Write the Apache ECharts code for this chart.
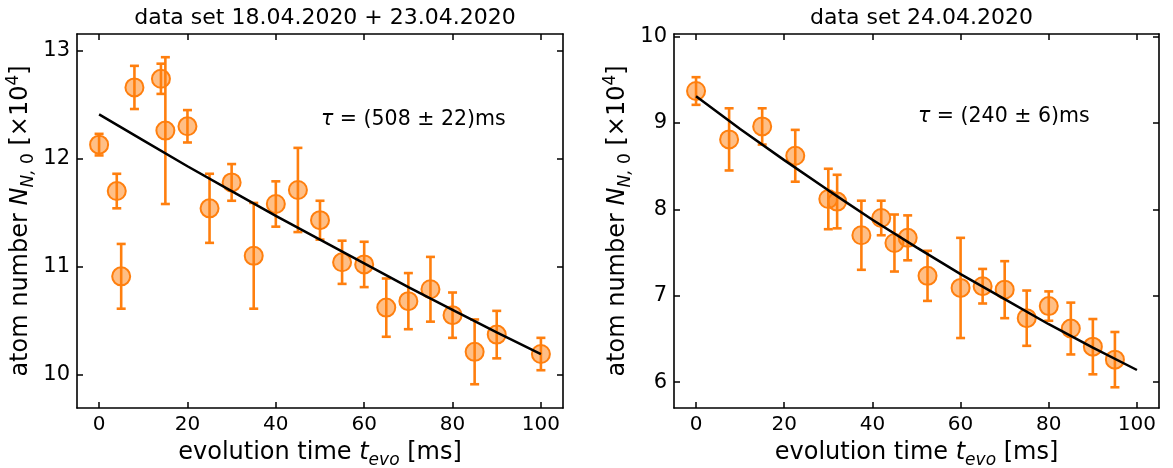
<!DOCTYPE html>
<html>
<head>
<meta charset="utf-8">
<script src="https://cdn.jsdelivr.net/npm/echarts@6/dist/echarts.min.js"></script>
<style>
  html, body { margin: 0; padding: 0; background: #fff; }
  #chart { width: 1173px; height: 468px; }
</style>
</head>
<body>
<div id="chart"></div>
<script>
// ---- data set 18.04.2020 + 23.04.2020 ----
const tA   = [0, 4, 5, 8, 14, 15, 20, 25, 30, 35, 40, 45, 50, 55, 60, 65, 70, 75, 80, 85, 90, 100];
const nA   = [12.13, 11.70, 10.91, 12.66, 12.74, 12.26, 12.30, 11.54, 11.78, 11.10, 11.58, 11.71, 11.43, 11.04, 11.02, 10.62, 10.68, 10.79, 10.55, 10.21, 10.37, 10.19];
const eA   = [0.10, 0.16, 0.30, 0.20, 0.14, 0.68, 0.15, 0.32, 0.17, 0.49, 0.21, 0.39, 0.18, 0.20, 0.21, 0.27, 0.26, 0.30, 0.21, 0.30, 0.22, 0.15];
const fitTA = [0, 10, 20, 30, 40, 50, 60, 70, 80, 90, 100];
const fitNA = [12.41, 12.17, 11.93, 11.70, 11.47, 11.25, 11.03, 10.81, 10.60, 10.39, 10.19];

// ---- data set 24.04.2020 ----
const tB   = [0, 7.5, 15, 22.5, 30, 32, 37.5, 42, 45, 48, 52.5, 60, 65, 70, 75, 80, 85, 90, 95];
const nB   = [9.37, 8.81, 8.96, 8.62, 8.12, 8.09, 7.70, 7.90, 7.61, 7.67, 7.23, 7.09, 7.11, 7.07, 6.74, 6.88, 6.62, 6.41, 6.26];
const eB   = [0.16, 0.36, 0.21, 0.30, 0.35, 0.31, 0.40, 0.20, 0.33, 0.26, 0.29, 0.58, 0.20, 0.33, 0.32, 0.17, 0.30, 0.32, 0.32];
const fitTB = [0, 10, 20, 30, 40, 50, 60, 70, 80, 90, 100];
const fitNB = [9.31, 8.93, 8.57, 8.22, 7.88, 7.56, 7.25, 6.96, 6.67, 6.40, 6.14];

// ---- axes ----
const xTicks  = [0, 20, 40, 60, 80, 100];
const yTicksA = [10, 11, 12, 13];
const yTicksB = [6, 7, 8, 9, 10];
const titles  = ['data set 18.04.2020 + 23.04.2020', 'data set 24.04.2020'];
const tauText = ['(508 ± 22)ms', '(240 ± 6)ms'];

const FONT = 'DejaVu Sans';
const ORANGE = '#ff7f0e';
const grids = [
  { left: 77, top: 34, width: 486, height: 374, outerBoundsMode: 'none' },
  { left: 674, top: 34, width: 485, height: 374, outerBoundsMode: 'none' }
];
const yRanges = [[9.69, 13.155], [5.70, 10.03]];
const yTicks = [yTicksA, yTicksB];

const frameLine = { show: true, onZero: false, lineStyle: { color: '#000', width: 1.6 } };
const tickStyle = (vals) => ({ show: true, inside: true, length: 6, customValues: vals, lineStyle: { color: '#000', width: 1.5 } });

const richLabel = {
  n: { fontFamily: FONT, fontSize: 24, color: '#000', lineHeight: 32 },
  i: { fontFamily: FONT, fontSize: 24, color: '#000', fontStyle: 'italic', lineHeight: 32 },
  s: { fontFamily: FONT, fontSize: 17, color: '#000', fontStyle: 'italic', verticalAlign: 'bottom', lineHeight: 20 },
  s0: { fontFamily: FONT, fontSize: 17, color: '#000', verticalAlign: 'bottom', lineHeight: 20 },
  p: { fontFamily: FONT, fontSize: 17, color: '#000', verticalAlign: 'top', lineHeight: 20 }
};

const xAxes = [], yAxes = [];
[0, 1].forEach(g => {
  // bottom axis with labels
  xAxes.push({
    type: 'value', gridIndex: g, min: -5, max: 105, position: 'bottom',
    axisLine: frameLine, axisTick: tickStyle(xTicks), splitLine: { show: false },
    axisLabel: { customValues: xTicks, fontFamily: FONT, fontSize: 20, color: '#000', margin: 7 },
    name: '{n|evolution time }{i|t}{s|evo}{n| [ms]}',
    nameLocation: 'middle', nameGap: 29,
    nameTextStyle: { rich: richLabel }
  });
  // top frame edge
  xAxes.push({
    type: 'value', gridIndex: g, min: -5, max: 105, position: 'top',
    axisLine: frameLine, axisTick: tickStyle(xTicks), splitLine: { show: false },
    axisLabel: { show: false }
  });
  yAxes.push({
    type: 'value', gridIndex: g, min: yRanges[g][0], max: yRanges[g][1], position: 'left',
    axisLine: frameLine, axisTick: tickStyle(yTicks[g]), splitLine: { show: false },
    axisLabel: { customValues: yTicks[g], fontFamily: FONT, fontSize: 21, color: '#000', margin: 7 },
    name: '{n|atom number }{i|N}{s|N,}{s0| 0}{n| [×10}{p|4}{n|]}',
    nameLocation: 'middle', nameGap: 40,
    nameTextStyle: { rich: richLabel }
  });
  yAxes.push({
    type: 'value', gridIndex: g, min: yRanges[g][0], max: yRanges[g][1], position: 'right',
    axisLine: frameLine, axisTick: tickStyle(yTicks[g]), splitLine: { show: false },
    axisLabel: { show: false }
  });
});

// vertical error bars with caps
function errorBar(params, api) {
  const x = api.value(0), y = api.value(1), e = api.value(2);
  const hi = api.coord([x, y + e]);
  const lo = api.coord([x, y - e]);
  const cap = 4.5;
  const st = { stroke: ORANGE, lineWidth: 2.6 };
  return {
    type: 'group',
    children: [
      { type: 'line', shape: { x1: hi[0], y1: hi[1], x2: lo[0], y2: lo[1] }, style: st },
      { type: 'line', shape: { x1: hi[0] - cap, y1: hi[1], x2: hi[0] + cap, y2: hi[1] }, style: st },
      { type: 'line', shape: { x1: lo[0] - cap, y1: lo[1], x2: lo[0] + cap, y2: lo[1] }, style: st }
    ]
  };
}

const sets = [
  { t: tA, n: nA, e: eA, ft: fitTA, fn: fitNA },
  { t: tB, n: nB, e: eB, ft: fitTB, fn: fitNB }
];

const series = [];
sets.forEach((s, g) => {
  const xi = g * 2, yi = g * 2;
  series.push({
    type: 'custom', xAxisIndex: xi, yAxisIndex: yi, renderItem: errorBar,
    data: s.t.map((t, k) => [t, s.n[k], s.e[k]]), z: 2, silent: true
  });
  series.push({
    type: 'scatter', xAxisIndex: xi, yAxisIndex: yi, symbol: 'circle', symbolSize: 18,
    itemStyle: { color: 'rgba(255,127,14,0.5)', borderColor: ORANGE, borderWidth: 2, opacity: 1 },
    data: s.t.map((t, k) => [t, s.n[k]]), z: 3, silent: true
  });
  series.push({
    type: 'line', xAxisIndex: xi, yAxisIndex: yi, showSymbol: false, smooth: false,
    lineStyle: { color: '#000', width: 2.5 },
    data: s.ft.map((t, k) => [t, s.fn[k]]), z: 4, silent: true
  });
});

const tauRich = {
  i: { fontFamily: FONT, fontSize: 20.5, fontStyle: 'italic', fill: '#000' },
  n: { fontFamily: FONT, fontSize: 20.5, fill: '#000' }
};

const option = {
  animation: false,
  backgroundColor: '#fff',
  title: titles.map((txt, g) => ({
    text: txt,
    left: grids[g].left + grids[g].width / 2,
    top: 2,
    textAlign: 'center',
    textStyle: { fontFamily: FONT, fontSize: 22, fontWeight: 'normal', color: '#000' }
  })),
  grid: grids,
  xAxis: xAxes,
  yAxis: yAxes,
  series: series,
  graphic: [
    { type: 'text', left: 321, top: 109, style: { text: '{i|τ}{n| = ' + tauText[0] + '}', rich: tauRich } },
    { type: 'text', left: 918, top: 106, style: { text: '{i|τ}{n| = ' + tauText[1] + '}', rich: tauRich } }
  ]
};

echarts.init(document.getElementById('chart'), null, { renderer: 'canvas' }).setOption(option);
</script>
</body>
</html>
